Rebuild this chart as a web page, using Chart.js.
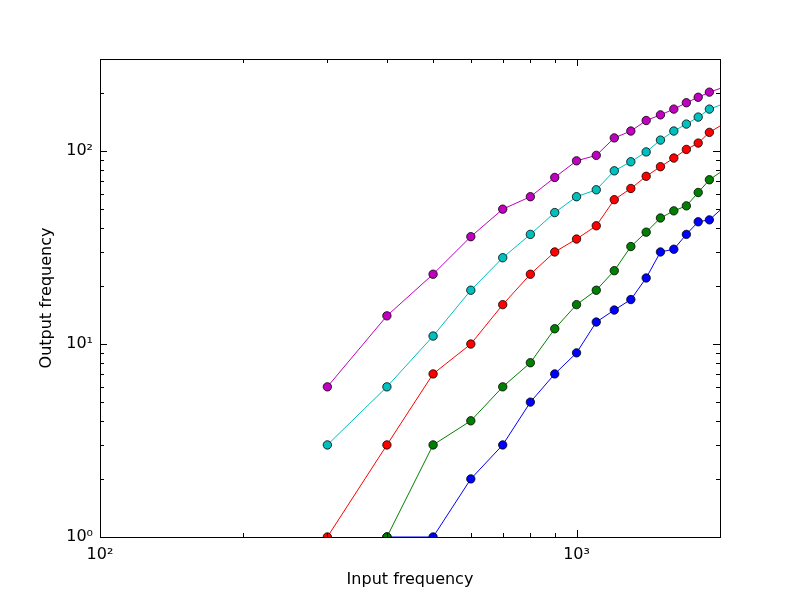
<!DOCTYPE html>
<html>
<head>
<meta charset="utf-8">
<script src="https://cdn.jsdelivr.net/npm/chart.js@4.4.1/dist/chart.umd.min.js"></script>
<style>
  body { margin: 0; background: #ffffff; }
  canvas { display: block; }
</style>
</head>
<body>
<canvas id="freqChart" width="800" height="598"></canvas>
<script>
// Input frequencies (x), last one sits just past the right edge of the axes
const inputFreq = [300, 400, 500, 600, 700, 800, 900, 1000, 1100, 1200, 1300, 1400, 1500, 1600, 1700, 1800, 1900, 2100];

// Output frequency per series (null = nothing plotted)
const blueOut    = [null, 1, 1, 2, 3, 5, 7, 9, 13, 15, 17, 22, 30, 31, 37, 43, 44, 55];
const greenOut   = [null, 1, 3, 4, 6, 8, 12, 16, 19, 24, 32, 38, 45, 49, 52, 61, 71, 84];
const redOut     = [1, 3, 7, 10, 16, 23, 30, 35, 41, 56, 64, 74, 83, 92, 102, 110, 125, 145];
const cyanOut    = [3, 6, 11, 19, 28, 37, 48, 58, 63, 79, 88, 99, 114, 127, 138, 150, 165, 181];
const magentaOut = [6, 14, 23, 36, 50, 58, 73, 89, 95, 117, 127, 144, 154, 165, 178, 190, 202, 220];

// Tick positions (log axes), labelled ones are the decades
const xTicks = [100, 200, 300, 400, 500, 600, 700, 800, 900, 1000, 2000];
const xMajor = [100, 1000];
const xLabels = { 100: '10\u00b2', 1000: '10\u00b3' };
const yTicks = [1, 2, 3, 4, 5, 6, 7, 8, 9, 10, 20, 30, 40, 50, 60, 70, 80, 90, 100, 200, 300];
const yMajor = [1, 10, 100];
const yLabels = { 1: '10\u2070', 10: '10\u00b9', 100: '10\u00b2' };

const FONT = "'DejaVu Sans', sans-serif";

function points(values) {
  return inputFreq.map((x, i) => ({ x: x, y: values[i] })).filter(p => p.y !== null);
}

function series(values, color) {
  return {
    data: points(values),
    showLine: true,
    borderColor: color,
    borderWidth: 1,
    pointRadius: 4.2,
    pointBorderWidth: 0.8,
    pointBackgroundColor: color,
    pointBorderColor: '#000000',
    clip: 0,
  };
}

// matplotlib-style frame: box round the plot and ticks pointing inwards on all four sides
const frameTicks = {
  id: 'frameTicks',
  afterDraw(chart) {
    const { ctx, chartArea: a, scales: { x, y } } = chart;
    ctx.save();
    ctx.strokeStyle = '#000000';
    ctx.lineWidth = 1;
    ctx.beginPath();
    xTicks.forEach(v => {
      const px = Math.round(x.getPixelForValue(v)) + 0.5;
      const len = xMajor.includes(v) ? 7 : 4;
      ctx.moveTo(px, a.bottom); ctx.lineTo(px, a.bottom - len);
      ctx.moveTo(px, a.top); ctx.lineTo(px, a.top + len);
    });
    yTicks.forEach(v => {
      const py = Math.round(y.getPixelForValue(v)) + 0.5;
      const len = yMajor.includes(v) ? 7 : 4;
      ctx.moveTo(a.left, py); ctx.lineTo(a.left + len, py);
      ctx.moveTo(a.right, py); ctx.lineTo(a.right - len, py);
    });
    ctx.stroke();
    ctx.strokeRect(a.left + 0.5, a.top + 0.5, a.right - a.left, a.bottom - a.top);
    ctx.restore();
  }
};

const ctx = document.getElementById('freqChart').getContext('2d');
new Chart(ctx, {
  type: 'scatter',
  data: {
    // first dataset is drawn on top
    datasets: [
      series(magentaOut, '#bf00bf'),
      series(cyanOut, '#00bfbf'),
      series(redOut, '#ff0000'),
      series(greenOut, '#008000'),
      series(blueOut, '#0000ff'),
    ],
  },
  options: {
    responsive: false,
    animation: false,
    devicePixelRatio: 1,
    layout: { padding: { left: 0, top: 59, right: 80, bottom: 0 } },
    plugins: {
      legend: { display: false },
      tooltip: { enabled: false },
    },
    scales: {
      x: {
        type: 'logarithmic',
        min: 100,
        max: 2000,
        grid: { display: false, drawTicks: false },
        border: { display: false },
        afterBuildTicks: scale => { scale.ticks = xTicks.map(v => ({ value: v })); },
        afterFit: scale => { scale.height = 61; },
        ticks: {
          autoSkip: false,
          maxRotation: 0,
          padding: 8,
          color: '#000000',
          font: { family: FONT, size: 16 },
          callback: v => xLabels[v] || '',
        },
        title: {
          display: true,
          text: 'Input frequency',
          color: '#000000',
          font: { family: FONT, size: 16 },
          padding: { top: 0, bottom: 9 },
        },
      },
      y: {
        type: 'logarithmic',
        min: 1,
        max: 300,
        grid: { display: false, drawTicks: false },
        border: { display: false },
        afterBuildTicks: scale => { scale.ticks = yTicks.map(v => ({ value: v })); },
        afterFit: scale => { scale.width = 100; },
        ticks: {
          autoSkip: false,
          padding: 7,
          color: '#000000',
          font: { family: FONT, size: 16 },
          callback: v => yLabels[v] || '',
        },
        title: {
          display: true,
          text: 'Output frequency',
          color: '#000000',
          font: { family: FONT, size: 16 },
          padding: { top: 37, bottom: 0 },
        },
      },
    },
  },
  plugins: [frameTicks],
});
</script>
</body>
</html>
